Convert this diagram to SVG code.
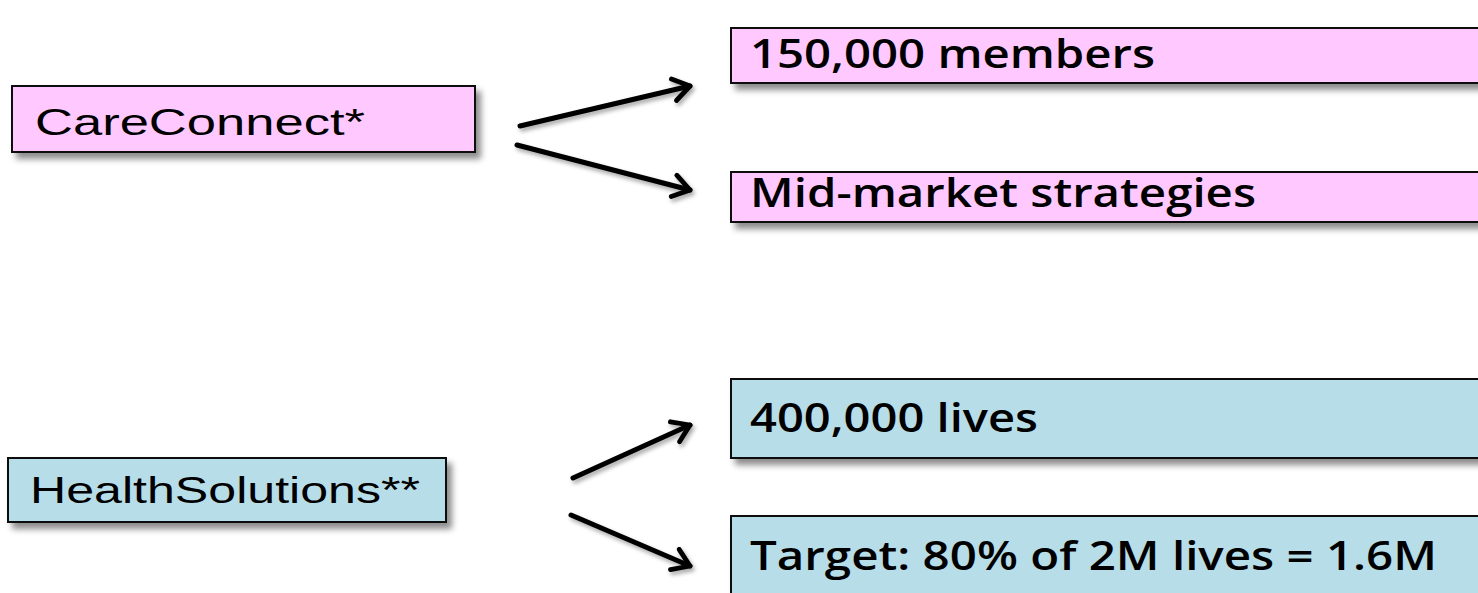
<svg xmlns="http://www.w3.org/2000/svg" width="1478" height="593" viewBox="0 0 1478 593">
  <style>
    .pink { fill: #ffc9ff; stroke: #111; stroke-width: 2; }
    .blue { fill: #b7dde8; stroke: #111; stroke-width: 2; }
    .src { font-family: "Liberation Sans", Arial, sans-serif; font-size: 36px; fill: #000; }
    .dst { font-family: "Open Sans", "Liberation Sans", sans-serif; font-size: 39px; font-weight: 600; fill: #000; }
    .conn { stroke: #000; stroke-width: 5; fill: none; stroke-linecap: round; }
  </style>
  <defs>
    <filter id="shadow" x="-10%" y="-30%" width="130%" height="180%">
      <feDropShadow dx="5" dy="6" stdDeviation="3" flood-color="#000" flood-opacity="0.45"/>
    </filter>
    <filter id="lineShadow" x="-20%" y="-50%" width="140%" height="200%">
      <feDropShadow dx="2" dy="3" stdDeviation="2" flood-color="#000" flood-opacity="0.35"/>
    </filter>
    <marker id="arrow" viewBox="0 0 20 20" refX="16" refY="10" markerWidth="5.5" markerHeight="5.5" markerUnits="strokeWidth" orient="auto">
      <path d="M4,2 L16,10 L4,18" fill="none" stroke="#000" stroke-width="3.5" stroke-linecap="round" stroke-linejoin="round"/>
    </marker>
  </defs>

  <rect width="1478" height="593" fill="#fff"/>

  <!-- connectors -->
  <g id="connectors" filter="url(#lineShadow)">
    <line class="conn" x1="520" y1="126" x2="690" y2="86" marker-end="url(#arrow)"/>
    <line class="conn" x1="517" y1="145" x2="690" y2="190" marker-end="url(#arrow)"/>
    <line class="conn" x1="573" y1="478" x2="690" y2="425" marker-end="url(#arrow)"/>
    <line class="conn" x1="571" y1="515" x2="690" y2="566" marker-end="url(#arrow)"/>
  </g>

  <!-- source nodes -->
  <g id="careconnect">
    <rect class="pink" x="12" y="86" width="463" height="66" filter="url(#shadow)"/>
    <text class="src" x="35" y="135" textLength="330" lengthAdjust="spacingAndGlyphs">CareConnect*</text>
  </g>
  <g id="healthsolutions">
    <rect class="blue" x="8" y="458" width="438" height="64" filter="url(#shadow)"/>
    <text class="src" x="30" y="503" textLength="390" lengthAdjust="spacingAndGlyphs">HealthSolutions**</text>
  </g>

  <!-- target nodes -->
  <g id="members">
    <rect class="pink" x="731" y="28" width="760" height="55" filter="url(#shadow)"/>
    <text class="dst" x="750" y="68" textLength="405" lengthAdjust="spacingAndGlyphs">150,000 members</text>
  </g>
  <g id="midmarket">
    <rect class="pink" x="731" y="172" width="760" height="50" filter="url(#shadow)"/>
    <text class="dst" x="750" y="207" textLength="506" lengthAdjust="spacingAndGlyphs">Mid-market strategies</text>
  </g>
  <g id="lives">
    <rect class="blue" x="731" y="379" width="760" height="79" filter="url(#shadow)"/>
    <text class="dst" x="750" y="432" textLength="288" lengthAdjust="spacingAndGlyphs">400,000 lives</text>
  </g>
  <g id="target">
    <rect class="blue" x="731" y="516" width="760" height="90" filter="url(#shadow)"/>
    <text class="dst" x="750" y="570" textLength="687" lengthAdjust="spacingAndGlyphs">Target: 80% of 2M lives = 1.6M</text>
  </g>
</svg>
